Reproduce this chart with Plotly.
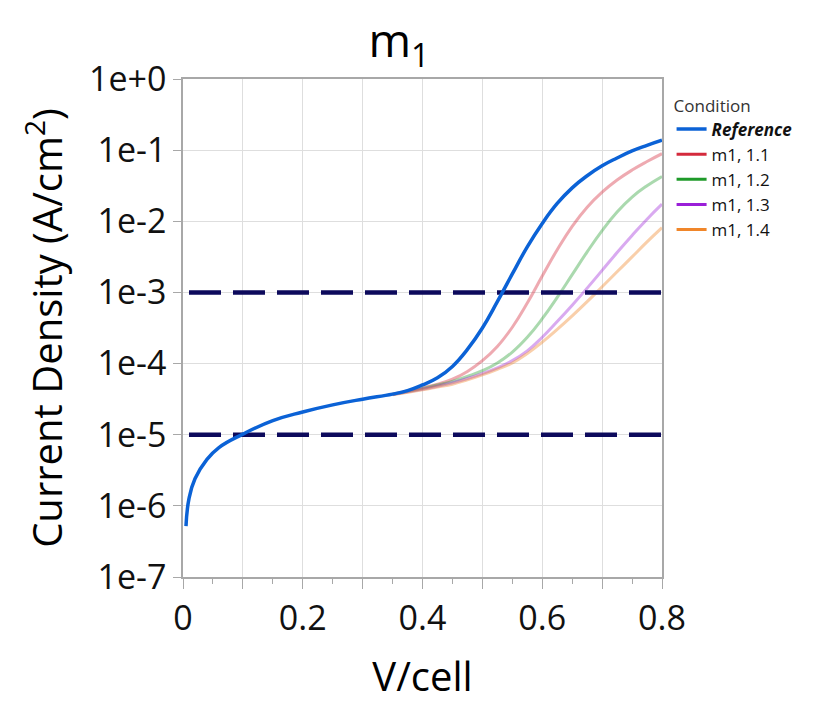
import plotly.graph_objects as go

# ---------------- data ----------------
v_ref = [0.005, 0.01, 0.02, 0.04, 0.06, 0.1, 0.15, 0.2, 0.25, 0.3, 0.35, 0.375,
         0.4, 0.425, 0.45, 0.475, 0.5, 0.525, 0.55, 0.575, 0.6, 0.625, 0.65,
         0.675, 0.7, 0.725, 0.75, 0.775, 0.8]
j_ref = [5.2e-7, 1.26e-6, 2.4e-6, 4.5e-6, 6.6e-6, 1.02e-5, 1.58e-5, 2.09e-5,
         2.63e-5, 3.16e-5, 3.72e-5, 4.17e-5, 5.01e-5, 6.31e-5, 9.12e-5, 1.58e-4,
         3.16e-4, 7.41e-4, 1.82e-3, 4.37e-3, 9.33e-3, 1.78e-2, 2.95e-2, 4.37e-2,
         6.03e-2, 7.76e-2, 9.77e-2, 1.17e-1, 1.38e-1]

v_cond = [0.35, 0.4, 0.425, 0.45, 0.475, 0.5, 0.525, 0.55, 0.575, 0.6, 0.625,
          0.65, 0.675, 0.7, 0.725, 0.75, 0.775, 0.8]
j_m1_11 = [3.7e-5, 4.57e-5, 5.13e-5, 6.03e-5, 7.76e-5, 1.10e-4, 1.74e-4, 3.24e-4,
           7.08e-4, 1.70e-3, 3.98e-3, 8.51e-3, 1.58e-2, 2.57e-2, 3.80e-2, 5.25e-2,
           6.92e-2, 8.91e-2]
j_m1_12 = [3.7e-5, 4.47e-5, 5.01e-5, 5.62e-5, 6.61e-5, 7.94e-5, 1.02e-4, 1.45e-4,
           2.34e-4, 4.27e-4, 8.51e-4, 1.78e-3, 3.72e-3, 7.41e-3, 1.35e-2, 2.19e-2,
           3.16e-2, 4.27e-2]
j_m1_13 = [3.68e-5, 4.37e-5, 4.79e-5, 5.37e-5, 6.17e-5, 7.24e-5, 8.71e-5, 1.10e-4,
           1.51e-4, 2.34e-4, 3.89e-4, 6.61e-4, 1.15e-3, 2.04e-3, 3.63e-3, 6.31e-3,
           1.07e-2, 1.74e-2]
j_m1_14 = [3.63e-5, 4.27e-5, 4.68e-5, 5.13e-5, 5.89e-5, 6.92e-5, 8.32e-5, 1.02e-4,
           1.38e-4, 2.0e-4, 3.02e-4, 4.68e-4, 7.41e-4, 1.20e-3, 1.95e-3, 3.16e-3,
           5.13e-3, 8.13e-3]

cond_names = ["m1, 1.1", "m1, 1.2", "m1, 1.3", "m1, 1.4"]
cond_values = [j_m1_11, j_m1_12, j_m1_13, j_m1_14]

threshold_levels = [1e-3, 1e-5]
threshold_v = [0.01, 0.8]

y_tickvals = [1e0, 1e-1, 1e-2, 1e-3, 1e-4, 1e-5, 1e-6, 1e-7]
y_ticktext = ["1e+0", "1e-1", "1e-2", "1e-3", "1e-4", "1e-5", "1e-6", "1e-7"]
x_tickvals = [0, 0.1, 0.2, 0.3, 0.4, 0.5, 0.6, 0.7, 0.8]
x_ticktext = ["0", "", "0.2", "", "0.4", "", "0.6", "", "0.8"]
x_minor_vals = [0.05, 0.15, 0.25, 0.35, 0.45, 0.55, 0.65, 0.75]

# ---------------- styles ----------------
FONT = "Open Sans"
ref_color = "#0b62d6"
cond_strong = ["#d42a3c", "#1f9a2a", "#9a1fd8", "#f0862a"]
cond_light = ["rgba(212,42,60,0.40)", "rgba(31,154,42,0.38)",
              "rgba(154,31,216,0.38)", "rgba(240,134,42,0.40)"]
dash_color = "#0d0a5c"

fig = go.Figure()

# light condition curves (drawn under the reference)
for name, vals, col in zip(cond_names, cond_values, cond_light):
    fig.add_trace(go.Scatter(
        x=v_cond, y=vals, mode="lines", name=name, showlegend=False,
        line=dict(color=col, width=3, shape="spline", smoothing=1.3),
        hoverinfo="skip"))

# threshold dashed lines
for lvl in threshold_levels:
    fig.add_trace(go.Scatter(
        x=threshold_v, y=[lvl] * len(threshold_v), mode="lines",
        showlegend=False, hoverinfo="skip",
        line=dict(color=dash_color, width=4.5, dash="32px,12px")))

# reference curve on top
fig.add_trace(go.Scatter(
    x=v_ref, y=j_ref, mode="lines", name="<b><i>Reference</i></b>",
    legendrank=1,
    line=dict(color=ref_color, width=3.5, shape="spline", smoothing=1.3)))

# legend entries with strong colours
for i, (name, col) in enumerate(zip(cond_names, cond_strong)):
    fig.add_trace(go.Scatter(
        x=[None], y=[None], mode="lines", name=name, legendrank=2 + i,
        line=dict(color=col, width=3)))

axis_line = "#a8a8a8"
grid_col = "#dedede"

fig.update_layout(
    width=838, height=711,
    margin=dict(l=183, r=176, t=79, b=134),
    paper_bgcolor="white", plot_bgcolor="white",
    font=dict(family=FONT, color="#111111"),
    title=dict(text="m<sub>1</sub>", font=dict(size=46, family=FONT, color="#000000"),
               x=0.476, xanchor="center", xref="container",
               y=0.942, yanchor="middle", yref="container"),
    showlegend=True,
    legend=dict(
        title=dict(text="Condition", font=dict(size=17, color="#333333")),
        font=dict(size=17, color="#111111"),
        x=1.02, xanchor="left", y=0.979, yanchor="top",
        xref="paper", yref="paper",
        tracegroupgap=0, itemwidth=30,
        bgcolor="rgba(0,0,0,0)", borderwidth=0),
    xaxis=dict(
        range=[0, 0.8], tickmode="array", tickvals=x_tickvals, ticktext=x_ticktext,
        showgrid=True, gridcolor=grid_col, gridwidth=1,
        showline=True, linecolor=axis_line, linewidth=1.5, mirror=True,
        ticks="outside", ticklen=10, tickcolor=axis_line, tickwidth=1.2,
        minor=dict(tickmode="array", tickvals=x_minor_vals, ticks="outside",
                   ticklen=5, tickcolor=axis_line, showgrid=False),
        tickfont=dict(size=34, family=FONT, color="#111111"),
        title=dict(text="V/cell", font=dict(size=40, family=FONT, color="#000000"),
                   standoff=24),
        zeroline=False),
    yaxis=dict(
        type="log", range=[-7, 0], tickmode="array",
        tickvals=y_tickvals, ticktext=y_ticktext,
        showgrid=True, gridcolor=grid_col, gridwidth=1,
        showline=True, linecolor=axis_line, linewidth=1.5, mirror=True,
        ticks="outside", ticklen=8, tickcolor=axis_line, tickwidth=1.2,
        tickfont=dict(size=34, family=FONT, color="#111111"),
        title=dict(text="Current Density (A/cm<sup>2</sup>)",
                   font=dict(size=40, family=FONT, color="#000000"),
                   standoff=14),
        zeroline=False),
)

fig.write_html("out.html")
